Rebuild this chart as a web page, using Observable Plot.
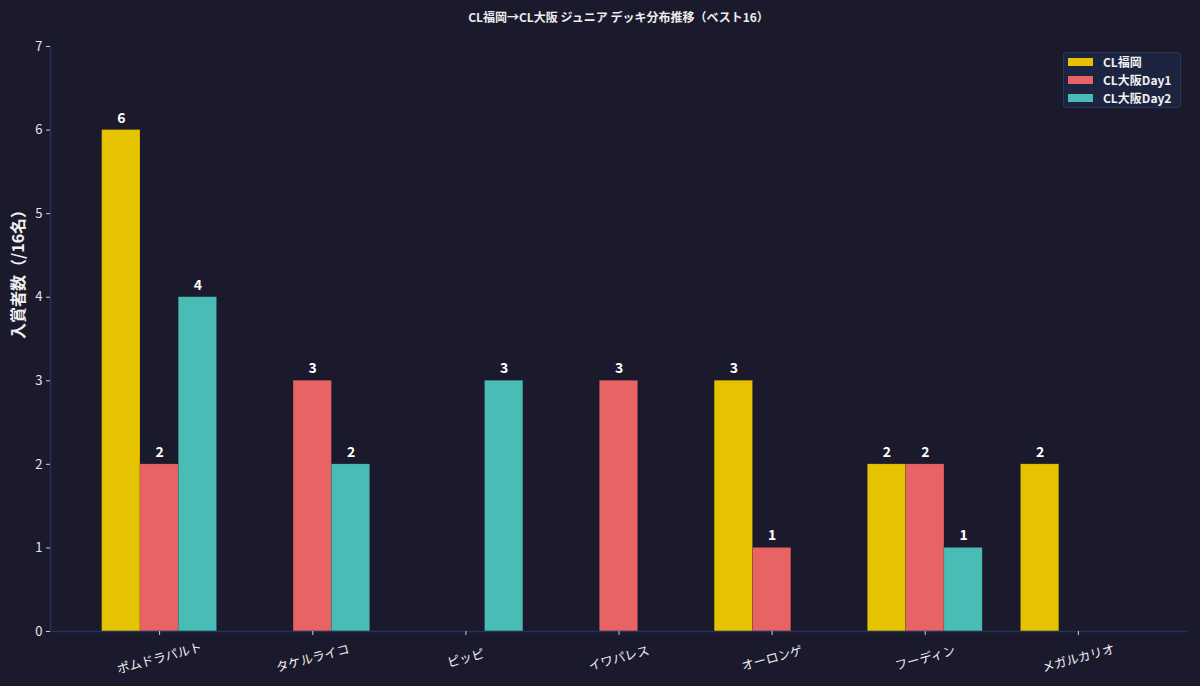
<!DOCTYPE html>
<html>
<head>
<meta charset="utf-8">
<script src="https://cdn.jsdelivr.net/npm/d3@7"></script>
<script src="https://cdn.jsdelivr.net/npm/@observablehq/plot@0.6"></script>
<style>
  html, body { margin: 0; padding: 0; background: #1b1a2d; }
  #wrap { position: relative; width: 1200px; height: 686px; background: #1b1a2d; font-family: "Noto Sans CJK JP", "Noto Sans", sans-serif; overflow: hidden; }
  #title { position: absolute; left: 50px; width: 1137px; top: 8px; text-align: center; color: #ececec; font-size: 12px; font-weight: bold; line-height: 18px; }
  #chart { position: absolute; left: 0; top: 34px; }
  #legend { position: absolute; left: 1063px; top: 52px; width: 118px; height: 56px; background: #1d2440; border: 1px solid #2a3658; border-radius: 3px; box-sizing: border-box; padding: 0 0 0 4px; }
  .row { display: flex; align-items: center; height: 18px; line-height: 18px; color: #f0f0f0; font-size: 12px; font-weight: bold; }
  .sw { width: 25px; height: 8px; margin-right: 10px; flex: none; }
</style>
</head>
<body>
<div id="wrap">
  <div id="title"></div>
  <div id="chart"></div>
  <div id="legend"></div>
</div>
<script>
const titleText = "CL福岡→CL大阪 ジュニア デッキ分布推移（ベスト16）";
const yLabel = "入賞者数（/16名）";
const categories = ["ポムドラパルト", "タケルライコ", "ピッピ", "イワパレス", "オーロンゲ", "フーディン", "メガルカリオ"];
const seriesNames = ["CL福岡", "CL大阪Day1", "CL大阪Day2"];
const fukuoka = [6, 0, 0, 0, 3, 2, 2];
const osakaDay1 = [2, 3, 0, 3, 1, 2, 0];
const osakaDay2 = [4, 2, 3, 0, 0, 1, 0];
const colors = ["#e6c300", "#e86464", "#49bdb5"];
const yTicks = [0, 1, 2, 3, 4, 5, 6, 7];

const seriesValues = [fukuoka, osakaDay1, osakaDay2];
const barW = 0.25;
const rows = [];
seriesValues.forEach((vals, s) => {
  vals.forEach((v, i) => {
    const c = i + (s - 1) * barW;
    rows.push({cat: categories[i], series: seriesNames[s], value: v, x1: c - barW / 2, x2: c + barW / 2, xc: c});
  });
});
const nonzero = rows.filter(d => d.value > 0);

document.getElementById("title").textContent = titleText;

const xDomain = [-0.375 - 6.75 * 0.05, 6.375 + 6.75 * 0.05];

const chart = Plot.plot({
  width: 1200,
  height: 652,
  marginLeft: 50,
  marginRight: 13,
  marginTop: 12,
  marginBottom: 55,
  style: {background: "transparent", color: "#e6e6e6", fontFamily: "'Noto Sans CJK JP', 'Noto Sans', sans-serif", fontSize: "12px"},
  x: {domain: xDomain},
  y: {domain: [0, 7]},
  color: {domain: seriesNames, range: colors},
  marks: [
    Plot.rectY(nonzero, {x1: "x1", x2: "x2", y1: 0, y2: "value", fill: "series", stroke: "#00000022", strokeWidth: 0.8}),
    Plot.text(nonzero, {x: "xc", y: "value", text: d => String(d.value), dy: -12, fill: "#ffffff", fontSize: 14, fontWeight: "bold"}),
    Plot.ruleX([xDomain[0]], {stroke: "#233358", strokeWidth: 1.5}),
    Plot.ruleY([0], {stroke: "#233358", strokeWidth: 1.5}),
    Plot.axisY({ticks: yTicks, tickFormat: d3.format("d"), tickSize: 4, tickPadding: 4, stroke: "#cccccc", label: null, fontSize: 13, fill: "#e6e6e6"}),
    Plot.axisX({ticks: d3.range(categories.length), tickSize: 4, tickFormat: () => "", label: null, stroke: "#cccccc"}),
    Plot.text(categories, {x: (d, i) => i, text: d => d, frameAnchor: "bottom", dy: 27, rotate: -15, fill: "#f0f0f0", fontSize: 12.5, textAnchor: "middle", lineAnchor: "middle"}),
    Plot.text([yLabel], {text: d => d, frameAnchor: "left", dx: -32, rotate: -90, fill: "#f0f0f0", fontSize: 16, fontWeight: "bold", lineAnchor: "middle"})
  ]
});
document.getElementById("chart").appendChild(chart);

const legend = document.getElementById("legend");
seriesNames.forEach((n, i) => {
  const r = document.createElement("div");
  r.className = "row";
  const sw = document.createElement("div");
  sw.className = "sw";
  sw.style.background = colors[i];
  const t = document.createElement("span");
  t.textContent = n;
  r.appendChild(sw);
  r.appendChild(t);
  legend.appendChild(r);
});
</script>
</body>
</html>
